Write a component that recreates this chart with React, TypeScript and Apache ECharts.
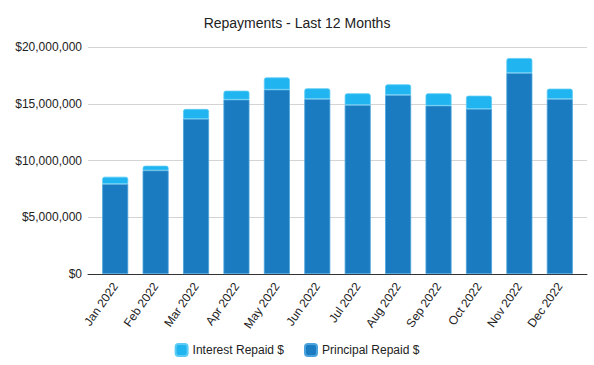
import React, { useEffect, useRef } from "react";
import * as echarts from "echarts";

const months = ["Jan 2022", "Feb 2022", "Mar 2022", "Apr 2022", "May 2022", "Jun 2022", "Jul 2022", "Aug 2022", "Sep 2022", "Oct 2022", "Nov 2022", "Dec 2022"];
const principalRepaid = [7930000, 9130000, 13660000, 15360000, 16240000, 15420000, 14890000, 15770000, 14830000, 14540000, 17710000, 15420000];
const interestRepaid = [640000, 410000, 880000, 790000, 1080000, 940000, 1030000, 940000, 1090000, 1170000, 1320000, 910000];
const yTicks = [0, 5000000, 10000000, 15000000, 20000000];

const FONT = "'Liberation Sans', Arial, sans-serif";
const fmt = (v: number) => "$" + Math.round(v).toLocaleString("en-US");

export default function App() {
  const ref = useRef<HTMLDivElement>(null);
  useEffect(() => {
    if (!ref.current) return;
    const chart = echarts.init(ref.current, undefined, { renderer: "svg" });
    const yMax = yTicks[yTicks.length - 1];
    const step = yTicks[1] - yTicks[0];
    chart.setOption({
      animation: false,
      backgroundColor: "#ffffff",
      textStyle: { fontFamily: FONT },
      title: {
        text: "Repayments - Last 12 Months",
        left: "center",
        top: 11,
        textStyle: { fontFamily: FONT, fontSize: 14, fontWeight: "normal", color: "#222" },
      },
      legend: {
        data: ["Interest Repaid $", "Principal Repaid $"],
        top: 338,
        left: "center",
        icon: "roundRect",
        itemWidth: 12,
        itemHeight: 12,
        itemGap: 20,
        textStyle: { fontFamily: FONT, fontSize: 12, color: "#222" },
      },
      grid: [
        { left: 88, right: 7, top: 47, bottom: 91 },
        { left: 95, right: 14, top: 47, bottom: 91 },
      ],
      xAxis: [
        {
          gridIndex: 0,
          type: "value",
          min: 0,
          max: 1,
          axisLine: { show: true, onZero: false, lineStyle: { color: "#333", width: 1 } },
          axisTick: { show: false },
          axisLabel: { show: false },
          splitLine: { show: false },
        },
        {
          gridIndex: 1,
          type: "category",
          data: months,
          axisLine: { show: false },
          axisTick: { show: false },
          axisLabel: { rotate: 55, margin: 10, fontSize: 12, color: "#222", fontFamily: FONT },
        },
      ],
      yAxis: [
        {
          gridIndex: 0,
          type: "value",
          min: 0,
          max: yMax,
          interval: step,
          axisLine: { show: false },
          axisTick: { show: false },
          axisLabel: { formatter: fmt, margin: 6, fontSize: 12, color: "#222", fontFamily: FONT },
          splitLine: { lineStyle: { color: "#d4d4d4", width: 1 } },
        },
        {
          gridIndex: 1,
          type: "value",
          min: 0,
          max: yMax,
          interval: step,
          show: false,
          splitLine: { show: false },
        },
      ],
      series: [
        {
          name: "Principal Repaid $",
          type: "bar",
          xAxisIndex: 1,
          yAxisIndex: 1,
          stack: "total",
          barWidth: 26,
          data: principalRepaid,
          itemStyle: { color: "#1b7bc0", borderColor: "#4aa3dc", borderWidth: 0.8 },
        },
        {
          name: "Interest Repaid $",
          type: "bar",
          xAxisIndex: 1,
          yAxisIndex: 1,
          stack: "total",
          barWidth: 26,
          data: interestRepaid,
          itemStyle: { color: "#20b5f0", borderColor: "#5cccf5", borderWidth: 0.8, borderRadius: [2, 2, 0, 0] },
        },
      ],
    });
    return () => chart.dispose();
  }, []);
  return <div ref={ref} style={{ position: "fixed", left: 0, top: 0, width: 594, height: 365 }} />;
}
